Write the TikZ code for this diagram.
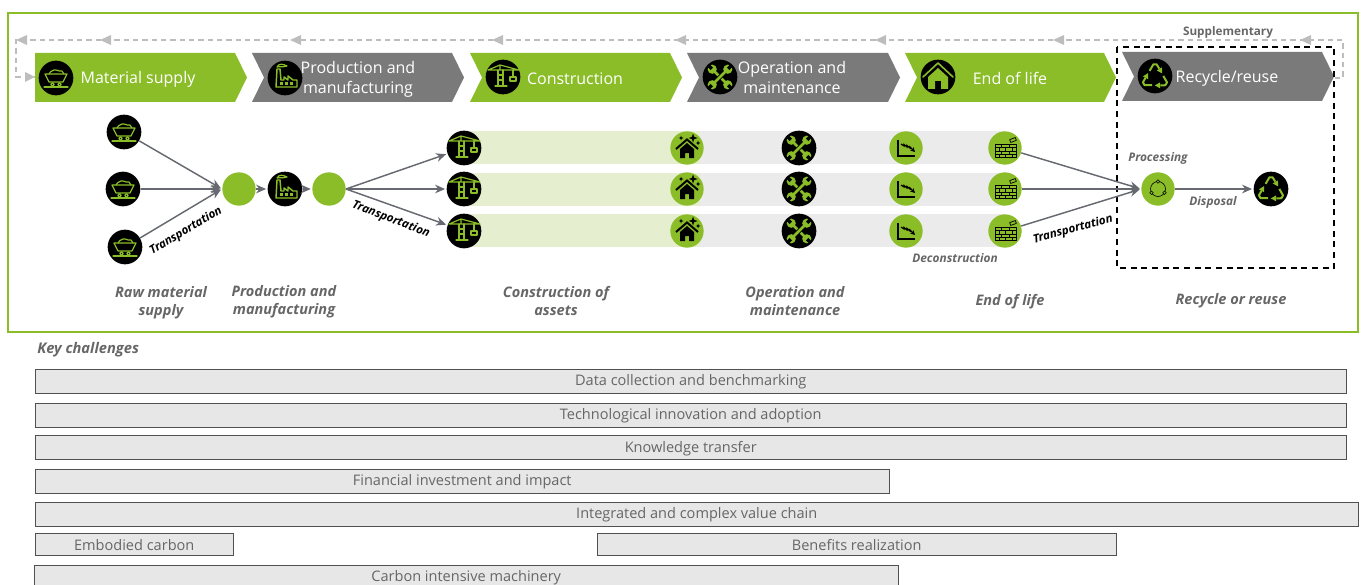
\documentclass[tikz,border=0pt]{standalone}
\usepackage{fontspec}
\setmainfont{Open Sans}
\usetikzlibrary{arrows.meta}
\definecolor{lime}{HTML}{8ABD28}
\definecolor{chev}{HTML}{7A7A7A}
\definecolor{arrowc}{HTML}{666A70}
\definecolor{pale}{HTML}{E6EED0}
\definecolor{bandg}{HTML}{EBEBEB}
\definecolor{barf}{HTML}{E7E7E7}
\definecolor{bard}{HTML}{505050}
\definecolor{txt}{HTML}{666666}
\definecolor{dashg}{HTML}{BDBDBD}
\newcommand{\barnode}[6]{\draw[barbox] (#2,#3) rectangle (#4,#5); \node[bartext] (#1) at ({(#2+#4)/2},{(#3+#5)/2+1.2}) {#6};}
\tikzset{
 x=0.75pt,y=-0.75pt,
 chevtext/.style={text=white,font=\fontsize{12}{15}\selectfont,align=center,inner sep=0},
 blackc/.style={circle,fill=black,minimum size=26pt,inner sep=0},
 greenc/.style={circle,fill=lime,minimum size=25pt,inner sep=0},
 arr/.style={draw=arrowc,line width=1.1pt,-{Stealth[length=7.5pt,width=6.5pt]},shorten >=1pt},
 barbox/.style={draw=bard,fill=barf,line width=0.7pt},
 bartext/.style={text=txt,font=\fontsize{10.9}{13}\selectfont,inner sep=0},
 lab/.style={text=txt,font=\fontsize{10.9}{13.5}\selectfont\bfseries\itshape,align=center,inner sep=0},
 slab/.style={text=txt,font=\fontsize{8.9}{11}\selectfont\bfseries\itshape,inner sep=0},
 tlab/.style={text=black,font=\fontsize{8.7}{11}\selectfont\bfseries\itshape,inner sep=0},
 gl/.style={draw=lime,line width=0.9pt,line join=round,line cap=round},
 kl/.style={draw=black,line width=0.55pt,line join=round},
 pics/cart/.style={code={
  \draw[gl] (-11,-4)--(11,-4)--(7,4)--(-7,4)--cycle;
  \draw[gl] (-7,-4) .. controls (-7,-7) and (-4,-6) .. (-2,-8) .. controls (0,-9) and (3,-6) .. (6,-7) -- (8,-4);
  \draw[gl] (-12,9)--(12,9);
  \draw[gl] (-3.5,6.5) circle (1.8) (3.5,6.5) circle (1.8);
 }},
 pics/factory/.style={code={
  \draw[gl,line width=1.1pt] (-9,9)--(12,9)--(12,2)--(8,2)--(3,-2)--(3,2)--(-1,-1)--(-1,2)--(-4,2)--(-5,-9)--(-8,-9)--cycle;
  \draw[gl] (-8,-11) .. controls (-6,-15) and (-2,-14) .. (2,-12) .. controls (-1,-10) and (-4,-12) .. (-8,-11);
  \foreach \q in {-5,0,5}{\fill[lime] (\q,4) rectangle ++(3,3);}
 }},
 pics/crane/.style={code={
  \draw[gl,line width=0.9pt] (-15,-7)--(16,-7) (-3,-7)--(-3,-12)--(-15,-7) (-3,-12)--(16,-7);
  \draw[gl,line width=0.9pt] (-5,-7)--(-5,8) (0,-7)--(0,8) (-5,-2)--(0,-2) (-5,3)--(0,3) (-8,9)--(4,9);
  \draw[gl] (10,-7)--(10,0);
  \draw[gl,line width=0.9pt] (7,0) rectangle (13,4);
 }},
 pics/shome/.style={code={
  \fill[black] (-7,1)--(0,-5)--(7,1)--(7,10)--(2,10)--(2,5)--(-2,5)--(-2,10)--(-7,10)--cycle;
  \draw[black,line width=1.5pt] (-11,1)--(0,-8.5)--(11,1);
  \foreach \p/\s in {(6,-10)/4.5,(11,-5)/2.5,(-6,-10)/2.5}{
   \fill[black] \p ++(0,-\s) -- ++(0.25*\s,0.75*\s) -- ++(0.75*\s,0.25*\s) -- ++(-0.75*\s,0.25*\s) -- ++(-0.25*\s,0.75*\s) -- ++(-0.25*\s,-0.75*\s) -- ++(-0.75*\s,-0.25*\s) -- ++(0.75*\s,-0.25*\s) -- cycle;}
 }},
 pics/wrench/.style={code={
  \foreach \a in {45,-45}{
   \begin{scope}[rotate=\a]
    \draw[black,line width=3.2pt] (0,-9)--(0,9);
    \draw[lime,line width=2.1pt] (0,-10)--(0,10);
    \fill[lime] (0,-11) circle (4.6) (0,11) circle (4.6);
    \fill[black] (-1.7,-17) rectangle (1.7,-11.5);
    \fill[black] (-1.7,17) rectangle (1.7,11.5);
   \end{scope}}
 }},
 pics/chart/.style={code={
  \draw[black,line width=1pt] (-8,-8)--(-8,8)--(9,8);
  \draw[black,line width=0.9pt,-{Stealth[length=3.5pt,width=3.5pt]}] (-5,-4)--(-2,-2)--(-2,-3.5)--(1,-1)--(1,-2.5)--(4,0)--(4,-1)--(9,4);
 }},
 pics/brick/.style={code={
  \draw[kl] (-10,-4) rectangle (11,9);
  \draw[kl] (-10,-0.5)--(11,-0.5) (-10,3)--(11,3) (-10,6)--(11,6);
  \draw[kl] (-4,-4)--(-4,-0.5) (4,-4)--(4,-0.5) (0,-0.5)--(0,3) (7,-0.5)--(7,3) (-6,-0.5)--(-6,3) (-4,3)--(-4,6) (4,3)--(4,6) (-6,6)--(-6,9) (0,6)--(0,9) (7,6)--(7,9);
  \draw[kl,rotate around={20:(8,-8)}] (5,-9.5) rectangle (11,-6.5);
 }},
 pics/recyc/.style={code={
  \begin{scope}[yshift=-1pt,scale=1.08]
  \foreach \a in {0,120,240}{
   \begin{scope}[rotate=\a]
    \draw[lime,line width=1.5pt,line join=round] (-5,-6)--(-1.5,-12)--(1.5,-12)--(4,-8);
    \fill[lime] (6.6,-3.6)--(6.4,-9.2)--(1.6,-6.4)--cycle;
   \end{scope}}
  \end{scope}
 }},
 pics/house/.style={code={
  \draw[lime,line width=1.2pt,line join=round,line cap=round] (-15,0)--(0,-14)--(15,0);
  \fill[lime] (-10,0)--(0,-9)--(10,0)--(10,12)--(3,12)--(3,4)--(-3,4)--(-3,12)--(-10,12)--cycle;
 }},
 pics/cyc/.style={code={
  \draw[black,line width=0.45pt] (0,0) circle (7.5);
  \foreach \a in {270,30,150}{\filldraw[draw=black,fill=lime,line width=0.45pt] (\a:7.5) circle (1.8);}
 }},
}
\begin{document}
\begin{tikzpicture}
\useasboundingbox (0,0) rectangle (1364,585);
\clip (0,0) rectangle (1364,585);
% frames
\draw[lime,line width=2.2pt] (8,13) rectangle (1358,332);
% dashed feedback
\coordinate (dr) at (1335,78);\coordinate (dc) at (1343,40);\coordinate (dl) at (16,40);\coordinate (de) at (35,77);
\draw[dashg,line width=1pt,dash pattern=on 4pt off 3pt] (dr)--(1343,78)--(dc)--(dl)--(16,77)--(de);
\foreach \q in {1300,1053,875,675,492,290,100,16}{
 \fill[dashg] (\q,40)--(\q+11,35)--(\q+11,45)--cycle;}
\fill[dashg] (35,77)--(25,72)--(25,82)--cycle;
% chevrons
\fill[lime] (35,53)--(235,53)--(247,77.5)--(235,102)--(35,102)--cycle;
\fill[chev] (252,53)--(452,53)--(464,77.5)--(452,102)--(252,102)--(264,77.5)--cycle;
\fill[lime] (470,53)--(670,53)--(682,77.5)--(670,102)--(470,102)--(482,77.5)--cycle;
\fill[chev] (687,53)--(888,53)--(900,77.5)--(888,102)--(687,102)--(699,77.5)--cycle;
\fill[lime] (905,53)--(1104,53)--(1116,77.5)--(1104,102)--(905,102)--(917,77.5)--cycle;
\fill[chev] (1122,52)--(1322,52)--(1334,76.5)--(1322,101)--(1122,101)--(1134,76.5)--cycle;
\draw[black,line width=1.5pt,dash pattern=on 4.5pt off 3.5pt] (1117,47) rectangle (1334,268);
\node[chevtext] (t1) at (138,79.5) {Material supply};
\node[chevtext] (t2) at (358,79) {Production and\\manufacturing};
\node[chevtext] (t3) at (575,78.5) {Construction};
\node[chevtext] (t4) at (792,77.5) {Operation and\\maintenance};
\node[chevtext] (t5) at (1010,78) {End of life};
\node[chevtext] (t6) at (1227,78) {Recycle/reuse};
\node[text=txt,font=\fontsize{8.8}{10}\selectfont\bfseries,inner sep=0] (sup) at (1228,32) {Supplementary};
\node[blackc] (h1) at (56,78) {}; \pic at (h1) {cart};
\node[blackc] (h2) at (285,78) {}; \pic at (h2) {factory};
\node[blackc] (h3) at (503,77) {}; \pic at (h3) {crane};
\node[blackc] (h4) at (720,77) {}; \pic at (h4) {wrench};
\node[blackc] (h5) at (938,77) {}; \pic at (h5) {house};
\node[blackc] (h6) at (1155,76) {}; \pic at (h6) {recyc};
% bands
\foreach \t in {131,173,214}{
 \fill[bandg] (690,\t) rectangle (1005,\t+33);
 \fill[pale] (464,\t) rectangle (700,\t+33);}
% nodes
\node[blackc] (c1) at (124,132) {}; \pic at (c1) {cart};
\node[blackc] (c2) at (123,189) {}; \pic at (c2) {cart};
\node[blackc] (c3) at (125,247) {}; \pic at (c3) {cart};
\node[greenc] (g1) at (239,189) {};
\node[blackc] (f1) at (285,189) {}; \pic at (f1) {factory};
\node[greenc] (g2) at (329,189) {};
\foreach \n/\y in {1/148,2/189,3/231}{
 \node[blackc] (cr\n) at (464,\y) {}; \pic at (cr\n) {crane};
 \node[greenc] (sh\n) at (687,\y) {}; \pic at (sh\n) {shome};
 \node[blackc] (w\n) at (799,\y) {}; \pic at (w\n) {wrench};
 \node[greenc] (ch\n) at (906,\y) {}; \pic at (ch\n) {chart};
 \node[greenc] (br\n) at (1005,\y) {}; \pic at (br\n) {brick};
}
\node[greenc] (pr) at (1158,189) {}; \pic at (pr) {cyc};
\node[blackc] (rc) at (1271,189) {}; \pic at (rc) {recyc};
% connectors
\foreach \n in {c1,c2,c3}{\draw[arr] (\n) -- (g1.west);}
\draw[arr] (g1) -- (f1);
\draw[arr] (f1) -- (g2);
\foreach \n in {cr1,cr2,cr3}{\draw[arr] (g2.east) -- (\n);}
\foreach \n in {br1,br2,br3}{\draw[arr] (\n) -- (pr.west);}
\draw[arr] (pr) -- (rc);
% labels
\node[tlab,rotate=31] (l1) at (186,231) {Transportation};
\node[tlab,rotate=-21] (l2) at (391,219.5) {Transportation};
\node[tlab,rotate=15] (l3) at (1073,229.5) {Transportation};
\node[slab] (l4) at (1158,158.5) {Processing};
\node[slab] (l5) at (1213,202.5) {Disposal};
\node[slab] (l6) at (955,258.5) {Deconstruction};
\node[lab] (s1) at (161,302.5) {Raw material\\supply};
\node[lab] (s2) at (284,302) {Production and\\manufacturing};
\node[lab] (s3) at (556,301) {Construction of\\assets};
\node[lab] (s4) at (795,301) {Operation and\\maintenance};
\node[lab] (s5) at (1010,302) {End of life};
\node[lab] (s6) at (1231,301) {Recycle or reuse};
\node[lab,font=\fontsize{11}{13}\selectfont\bfseries\itshape,anchor=west] (k) at (37,350) {Key challenges};
% bars
\barnode{b1}{35.5}{369}{1346}{393}{Data collection and benchmarking}
\barnode{b2}{35.5}{403}{1346}{427}{Technological innovation and adoption}
\barnode{b3}{35.5}{435}{1346}{459}{Knowledge transfer}
\barnode{b4}{35.5}{469}{889}{493}{Financial investment and impact}
\barnode{b5}{35.5}{502}{1358}{526}{Integrated and complex value chain}
\barnode{b6}{35.5}{533}{233}{555.5}{Embodied carbon}
\barnode{b7}{597.5}{533}{1116}{555.5}{Benefits realization}
\barnode{b8}{34.5}{565}{898}{589}{Carbon intensive machinery}
\end{tikzpicture}
\end{document}
